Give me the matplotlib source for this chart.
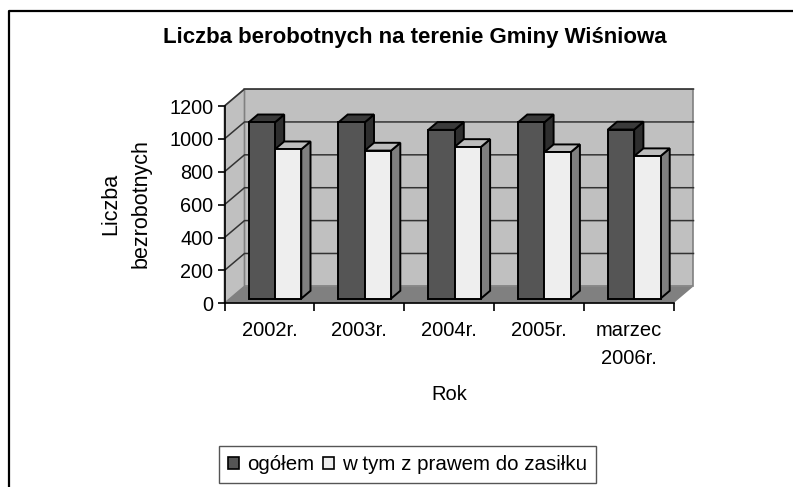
import matplotlib
matplotlib.use("Agg")
import matplotlib.pyplot as plt
from matplotlib.patches import Rectangle

plt.rcParams['font.family'] = ['Liberation Sans', 'DejaVu Sans']

# values
categories = ["2002r.", "2003r.", "2004r.", "2005r.", "marzec\n2006r."]
ogolem = [1072, 1072, 1026, 1072, 1028]
z_prawem = [908, 900, 922, 890, 866]
ticks = [0, 200, 400, 600, 800, 1000, 1200]

W, H = 793, 487

# oblique "3D" look: one unit of depth moves this far in data units
DEPTH_X = 0.2227
DEPTH_Y = 103
BAR_W = 0.293
D0, D1 = 0.28, 0.74


def proj(x, y, d):
    return x + d * DEPTH_X, y + d * DEPTH_Y


fig = plt.figure(figsize=(W / 100, H / 100), dpi=100)

# outer frame of the chart, only left and top are in the picture
frame = fig.add_axes([0, 0, 1, 1])
frame.set_xlim(0, W)
frame.set_ylim(H, 0)
frame.axis("off")
frame.plot([8.5, 8.5, W], [H, 11, 11], color="black", lw=1.6)

# plot box in pixels
left, right, top, bottom = 224.5, 673.5, 106, 303.3
ax = fig.add_axes([left / W, 1 - bottom / H, (right - left) / W, (bottom - top) / H])
ax.set_xlim(0, 5)
ax.set_ylim(0, 1200)
ax.patch.set_visible(False)
for s in ["top", "right"]:
    ax.spines[s].set_visible(False)
for s in ["left", "bottom"]:
    ax.spines[s].set_linewidth(1.2)

# back wall, side wall, floor
wall = "#c0c0c0"
edge = "#808080"
ax.fill(*zip(proj(0, 0, 1), proj(5, 0, 1), proj(5, 1200, 1), proj(0, 1200, 1)),
        fc=wall, ec=edge, lw=1.2, clip_on=False, zorder=1)
ax.fill(*zip(proj(0, 0, 0), proj(0, 0, 1), proj(0, 1200, 1), proj(0, 1200, 0)),
        fc=wall, ec=edge, lw=1.2, clip_on=False, zorder=1)
ax.fill(*zip(proj(0, 0, 0), proj(5, 0, 0), proj(5, 0, 1), proj(0, 0, 1)),
        fc="#808080", ec="none", clip_on=False, zorder=1)

# gridlines run along the side wall and the back wall
for t in ticks[1:]:
    xs, ys = zip(proj(0, t, 0), proj(0, t, 1), proj(5, t, 1))
    ax.plot(xs, ys, color="#333333", lw=1.1, clip_on=False, zorder=2)


def draw_bars(values, offset, front, topc, side):
    for i, v in enumerate(values):
        x0 = i + 0.5 - BAR_W + offset
        x1 = x0 + BAR_W
        a = proj(x0, v, D0)
        b = proj(x1, v, D0)
        c = proj(x1, v, D1)
        d = proj(x0, v, D1)
        e = proj(x1, 0, D0)
        f = proj(x1, 0, D1)
        ax.fill(*zip(b, c, f, e), fc=side, ec="black", lw=1.4, clip_on=False, zorder=3)
        ax.fill(*zip(a, b, c, d), fc=topc, ec="black", lw=1.4, clip_on=False, zorder=3)
        ax.bar(a[0], v, BAR_W, bottom=D0 * DEPTH_Y, align="edge", color=front,
               ec="black", lw=1.4, clip_on=False, zorder=3)


# the white bars sit in front of the dark ones
draw_bars(ogolem, 0, "#555555", "#3a3a3a", "#2e2e2e")
draw_bars(z_prawem, BAR_W, "#eeeeee", "#bdbdbd", "#7f7f7f")

ax.set_yticks(ticks)
ax.set_xticks(range(6))
ax.set_xticklabels([])
ax.tick_params(axis="y", labelsize=14.3, length=5, width=1.2, pad=3)
ax.tick_params(axis="x", length=6, width=1.2)
for i, c in enumerate(categories):
    ax.annotate(c, (i + 0.5, 0), xytext=(0, -18), textcoords="offset pixels", ha="center",
                va="top", fontsize=14.5, linespacing=1.6)

# titles
frame.text(415, 38, "Liczba berobotnych na terenie Gminy Wiśniowa", ha="center", va="center",
           fontsize=16, fontweight="bold")
frame.text(449, 395, "Rok", ha="center", va="center", fontsize=14.5)
frame.text(126, 204, "Liczba\nbezrobotnych", ha="center", va="center", rotation=90,
           fontsize=15.5, linespacing=1.6)

# legend
handles = [Rectangle((0, 0), 1, 1, fc="#555555", ec="black", lw=1.2),
           Rectangle((0, 0), 1, 1, fc="#eeeeee", ec="black", lw=1.2)]
leg = frame.legend(handles, ["ogółem", "w tym z prawem do zasiłku"], ncol=2, fontsize=14.8,
                   loc="center", bbox_to_anchor=(407.5 / W, 1 - 464.5 / H), fancybox=False,
                   edgecolor="#555555", framealpha=1, handlelength=0.55, handleheight=0.55,
                   handletextpad=0.4, columnspacing=0.4, borderpad=0.45, borderaxespad=0)
leg.get_frame().set_linewidth(1.0)

fig.savefig("out.png", dpi=100)
